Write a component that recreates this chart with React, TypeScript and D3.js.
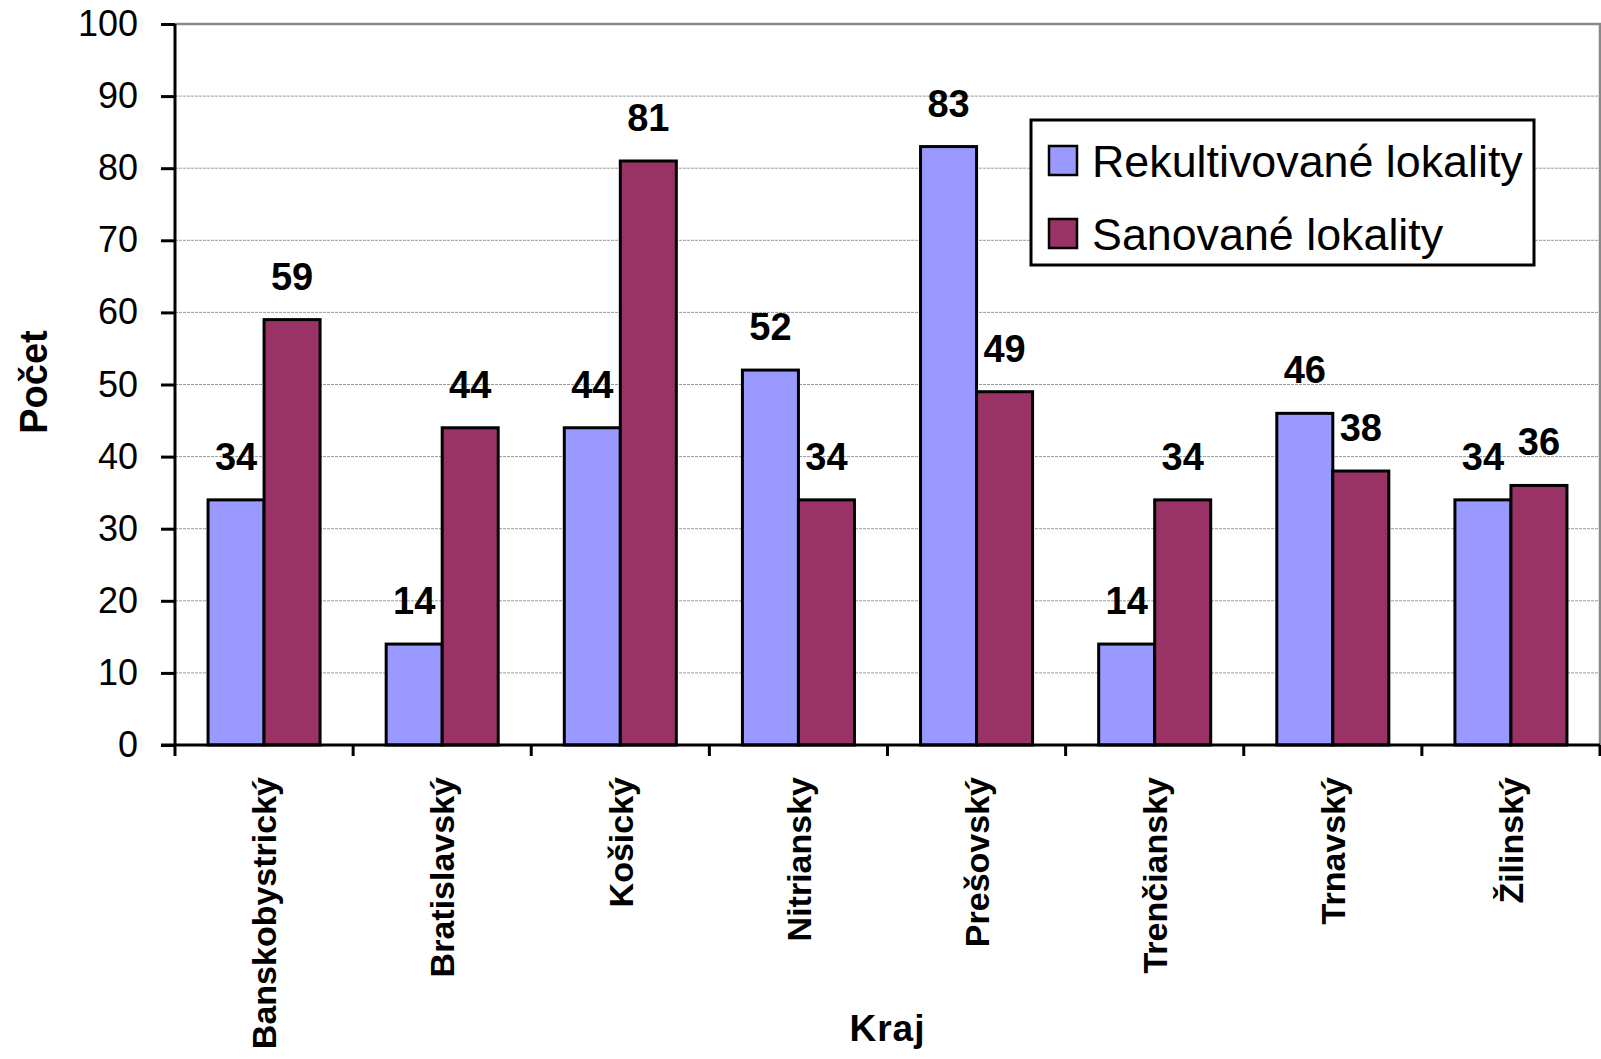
import { useEffect, useRef } from "react";
import * as d3 from "d3";

const categories = [
  "Banskobystrický",
  "Bratislavský",
  "Košický",
  "Nitriansky",
  "Prešovský",
  "Trenčiansky",
  "Trnavský",
  "Žilinský",
];
const seriesNames = ["Rekultivované lokality", "Sanované lokality"];
const rekultivovane = [34, 14, 44, 52, 83, 14, 46, 34];
const sanovane = [59, 44, 81, 34, 49, 34, 38, 36];
const yTicks = [0, 10, 20, 30, 40, 50, 60, 70, 80, 90, 100];

const COLORS = ["#9999ff", "#993366"];
const FONT = "'Liberation Sans', Arial, sans-serif";

export default function App() {
  const ref = useRef<SVGSVGElement>(null);

  useEffect(() => {
    if (!ref.current) return;
    const W = 1601;
    const H = 1059;
    const m = { left: 175, right: 1600, top: 24, bottom: 745 };

    const svg = d3.select(ref.current);
    svg.selectAll("*").remove();
    svg.attr("width", W).attr("height", H).attr("viewBox", `0 0 ${W} ${H}`);

    const y = d3.scaleLinear().domain([0, 100]).range([m.bottom, m.top]);
    const x0 = d3.scaleBand().domain(categories).range([m.left, m.right]);
    const x1 = d3.scaleBand().domain(seriesNames).range([0, x0.bandwidth()]).paddingOuter(0.59);

    // grid
    svg
      .append("g")
      .selectAll("line")
      .data(yTicks.filter((t) => t > 0 && t < 100))
      .join("line")
      .attr("x1", m.left)
      .attr("x2", m.right)
      .attr("y1", (d) => y(d))
      .attr("y2", (d) => y(d))
      .attr("stroke", "#9a9a9a")
      .attr("stroke-width", 1)
      .attr("stroke-dasharray", "3,1");

    // plot border top / right
    svg
      .append("path")
      .attr("d", `M${m.left},${y(100)}H${m.right}V${m.bottom}`)
      .attr("fill", "none")
      .attr("stroke", "#888")
      .attr("stroke-width", 2.5);

    const rows = categories.map((c, i) => ({ c, vals: [rekultivovane[i], sanovane[i]] }));

    const groups = svg
      .append("g")
      .selectAll("g")
      .data(rows)
      .join("g")
      .attr("transform", (d) => `translate(${x0(d.c)},0)`);

    groups
      .selectAll("rect")
      .data((d) => d.vals.map((v, j) => ({ v, s: seriesNames[j], j })))
      .join("rect")
      .attr("x", (d) => x1(d.s)!)
      .attr("y", (d) => y(d.v))
      .attr("width", x1.bandwidth())
      .attr("height", (d) => y(0) - y(d.v))
      .attr("fill", (d) => COLORS[d.j])
      .attr("stroke", "#000")
      .attr("stroke-width", 3);

    groups
      .selectAll("text")
      .data((d) => d.vals.map((v, j) => ({ v, s: seriesNames[j] })))
      .join("text")
      .attr("x", (d) => x1(d.s)! + x1.bandwidth() / 2)
      .attr("y", (d) => y(d.v) - 30)
      .attr("text-anchor", "middle")
      .attr("font-family", FONT)
      .attr("font-weight", "bold")
      .attr("font-size", 38)
      .text((d) => d.v);

    // y axis
    const yAxis = svg
      .append("g")
      .attr("transform", `translate(${m.left},0)`)
      .call(d3.axisLeft(y).tickValues(yTicks).tickSize(14).tickPadding(23));
    yAxis.select(".domain").attr("stroke", "#000").attr("stroke-width", 3).attr("d", `M0,${m.top}V${m.bottom + 1}`);
    yAxis.selectAll(".tick line").attr("stroke", "#000").attr("stroke-width", 3);
    yAxis
      .selectAll(".tick text")
      .attr("font-family", FONT)
      .attr("font-size", 36)
      .attr("fill", "#000");

    // x axis
    const xAxis = svg.append("g").attr("transform", `translate(0,${m.bottom})`);
    xAxis
      .append("line")
      .attr("x1", m.left - 14)
      .attr("x2", m.right)
      .attr("stroke", "#000")
      .attr("stroke-width", 3);
    const bounds = [...categories.map((c) => x0(c)!), m.right];
    xAxis
      .selectAll(".xt")
      .data(bounds)
      .join("line")
      .attr("x1", (d) => d)
      .attr("x2", (d) => d)
      .attr("y1", 0)
      .attr("y2", 11)
      .attr("stroke", "#000")
      .attr("stroke-width", 3);

    svg
      .append("g")
      .selectAll("text")
      .data(categories)
      .join("text")
      .attr("transform", (d) => `translate(${x0(d)! + x0.bandwidth() / 2},777) rotate(-90)`)
      .attr("text-anchor", "end")
      .attr("dy", "0.36em")
      .attr("font-family", FONT)
      .attr("font-weight", "bold")
      .attr("font-size", 34)
      .text((d) => d);

    // axis titles
    svg
      .append("text")
      .attr("x", (m.left + m.right) / 2)
      .attr("y", 1041)
      .attr("text-anchor", "middle")
      .attr("font-family", FONT)
      .attr("font-weight", "bold")
      .attr("font-size", 37)
      .attr("letter-spacing", 1)
      .text("Kraj");

    svg
      .append("text")
      .attr("transform", "translate(47,382) rotate(-90)")
      .attr("text-anchor", "middle")
      .attr("font-family", FONT)
      .attr("font-weight", "bold")
      .attr("font-size", 38)
      .text("Počet");

    // legend
    const lg = svg.append("g");
    lg.append("rect")
      .attr("x", 1031)
      .attr("y", 120)
      .attr("width", 503)
      .attr("height", 145)
      .attr("fill", "#fff")
      .attr("stroke", "#000")
      .attr("stroke-width", 3);
    seriesNames.forEach((s, i) => {
      const cy = 161 + i * 73;
      lg.append("rect")
        .attr("x", 1049)
        .attr("y", cy - 15)
        .attr("width", 28)
        .attr("height", 29)
        .attr("fill", COLORS[i])
        .attr("stroke", "#000")
        .attr("stroke-width", 2.5);
      lg.append("text")
        .attr("x", 1092)
        .attr("y", cy)
        .attr("dy", "0.35em")
        .attr("font-family", FONT)
        .attr("font-size", 44.8)
        .text(s);
    });
  }, []);

  return <svg ref={ref} style={{ position: "absolute", left: 0, top: 0, display: "block", background: "#fff" }} />;
}
